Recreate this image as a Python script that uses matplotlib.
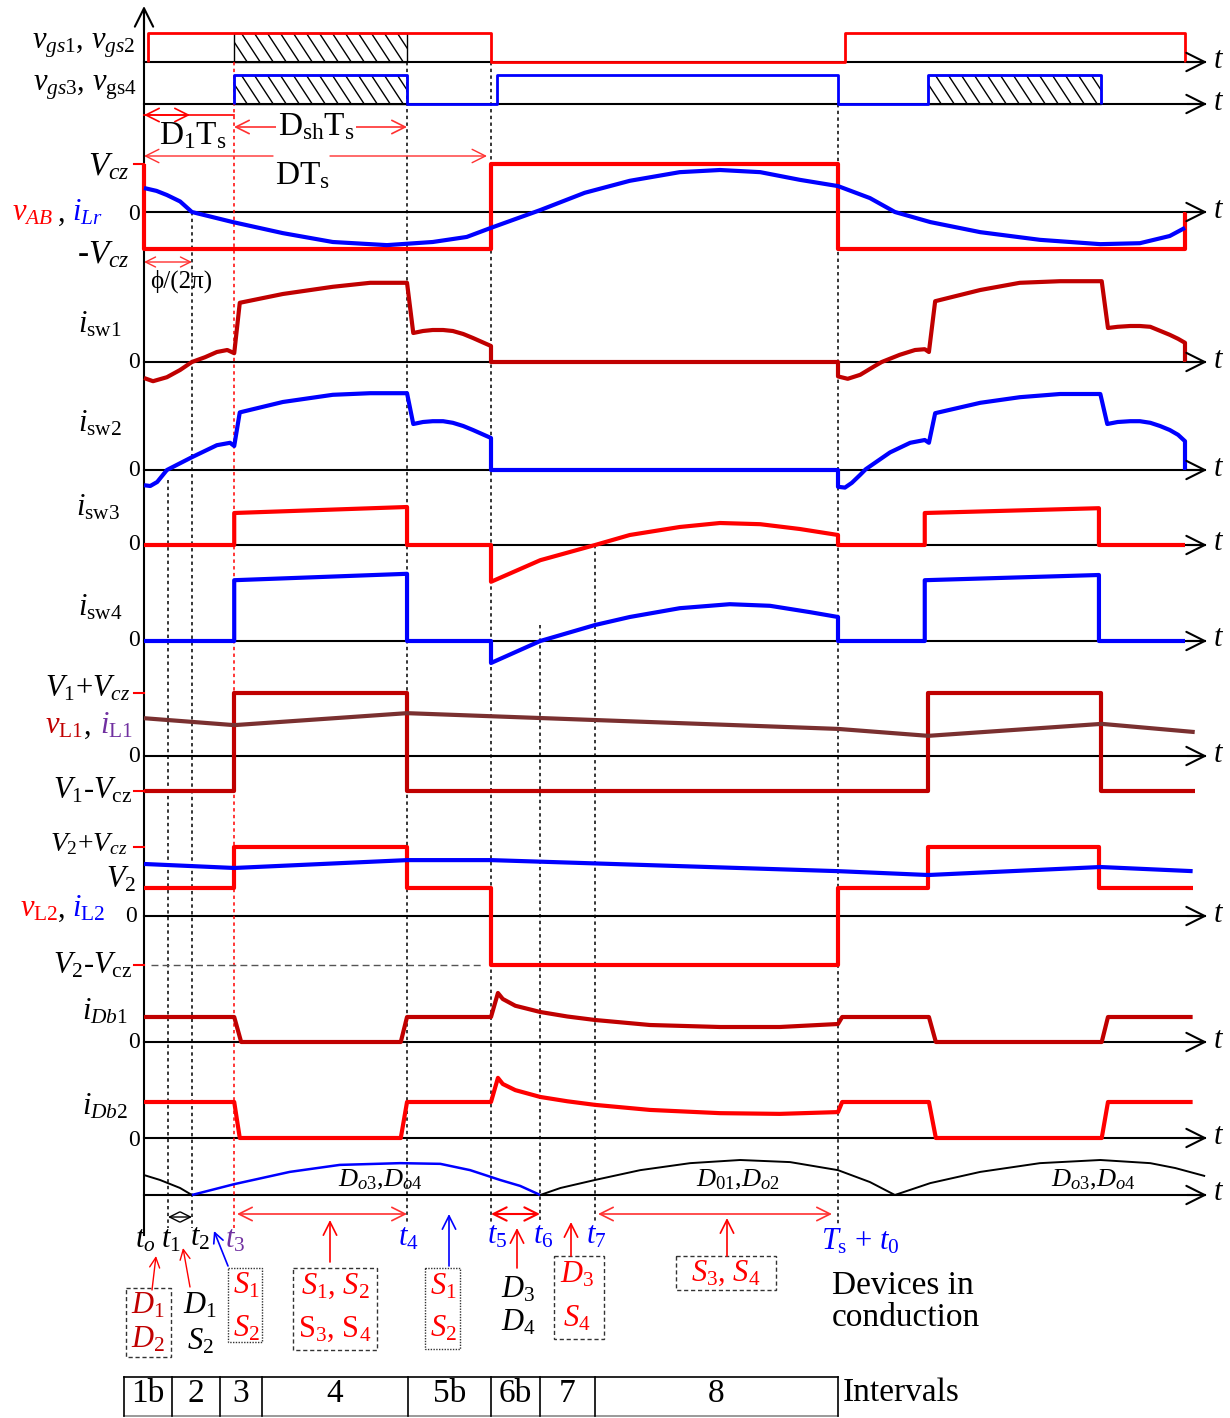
import matplotlib
matplotlib.use("Agg")
import matplotlib.pyplot as plt
import matplotlib.transforms as mtransforms
from matplotlib.patches import Rectangle

plt.rcParams["font.family"] = ["Liberation Serif", "DejaVu Serif"]
plt.rcParams["mathtext.fontset"] = "custom"
plt.rcParams["mathtext.rm"] = "Liberation Serif"
plt.rcParams["mathtext.it"] = "Liberation Serif:italic"
plt.rcParams["mathtext.bf"] = "Liberation Serif:bold"

RED = "#ff0000"
DARK_RED = "#c00000"
BLUE = "#0000ff"
BROWN = "#7a3030"
PURPLE = "#7030a0"
ARROW_RED = "#ff3030"

# switching instants, in units of the switching period Ts
T1, T2, T3, T4, T5, T6, T7, TS = 0.035, 0.069, 0.13, 0.379, 0.5, 0.571, 0.65, 1.0
T3B, T4B, T_END = 1.13, 1.379, 1.5

# gate signals (0 / 1)
VGS12_T = [0.006, 0.006, 0.5, 0.5, 1.01, 1.01, 1.5, 1.5]
VGS12_V = [0, 1, 1, 0, 0, 1, 1, 0]
VGS34_T = [0.13, 0.13, 0.379, 0.379, 0.509, 0.509, 1.0, 1.0, 1.13, 1.13, 1.379, 1.379]
VGS34_V = [0, 1, 1, 0, 0, 1, 1, 0, 0, 1, 1, 0]

# bridge voltage (per unit of Vcz) and resonant current
VAB_T = [0, 0, 0.5, 0.5, 1.0, 1.0, 1.5, 1.5]
VAB_V = [1, -0.77, -0.77, 1, 1, -0.77, -0.77, 0]
ILR_T = [0, 0.018, 0.033, 0.052, 0.069, 0.128, 0.2, 0.272, 0.35, 0.416, 0.465, 0.5,
         0.571, 0.635, 0.7, 0.772, 0.83, 0.888, 0.945, 1.0, 1.046, 1.082, 1.133,
         1.205, 1.291, 1.378, 1.435, 1.478, 1.5]
ILR_V = [0.5, 0.44, 0.354, 0.22, 0, -0.21, -0.44, -0.625, -0.69, -0.625, -0.52, -0.33,
         0.04, 0.4, 0.65, 0.83, 0.875, 0.83, 0.67, 0.54, 0.29, 0, -0.21,
         -0.42, -0.58, -0.67, -0.65, -0.5, -0.33]

# switch currents
ISW1_T = [0, 0.013, 0.033, 0.052, 0.069, 0.088, 0.105, 0.12, 0.13, 0.138, 0.2, 0.272,
          0.326, 0.379, 0.388, 0.402, 0.416, 0.431, 0.445, 0.46, 0.474, 0.487, 0.5,
          0.5, 1.0, 1.0, 1.014, 1.032, 1.053, 1.063, 1.089, 1.111, 1.125, 1.131,
          1.14, 1.205, 1.262, 1.32, 1.38, 1.389, 1.403, 1.421, 1.435, 1.45, 1.464,
          1.478, 1.49, 1.5, 1.5]
ISW1_V = [-0.2, -0.24, -0.19, -0.1, 0, 0.06, 0.125, 0.15, 0.11, 0.74, 0.85, 0.94,
          0.99, 0.99, 0.3625, 0.3875, 0.4, 0.4, 0.3875, 0.35, 0.3, 0.25, 0.2,
          0, 0, -0.18, -0.21, -0.16, -0.05, 0, 0.09, 0.15, 0.16, 0.125,
          0.76, 0.9, 0.99, 1.01, 1.01, 0.425, 0.44, 0.45, 0.45, 0.44, 0.39,
          0.34, 0.29, 0.24, 0]
ISW2_T = [0, 0.009, 0.019, 0.033, 0.069, 0.105, 0.124, 0.13, 0.138, 0.2, 0.272, 0.326,
          0.379, 0.388, 0.402, 0.416, 0.431, 0.445, 0.46, 0.474, 0.487, 0.5, 0.5,
          1.0, 1.0, 1.01, 1.02, 1.032, 1.04, 1.075, 1.104, 1.125, 1.131, 1.14,
          1.205, 1.262, 1.32, 1.378, 1.388, 1.403, 1.421, 1.435, 1.45, 1.464,
          1.478, 1.49, 1.5, 1.5]
ISW2_V = [-0.19, -0.2, -0.15, 0, 0.16, 0.31, 0.34, 0.3, 0.72, 0.85, 0.94, 0.96,
          0.96, 0.575, 0.6, 0.61, 0.61, 0.59, 0.55, 0.5, 0.45, 0.4, 0,
          0, -0.21, -0.22, -0.16, -0.06, 0.01, 0.22, 0.34, 0.375, 0.34, 0.71,
          0.84, 0.91, 0.95, 0.95, 0.575, 0.6, 0.61, 0.61, 0.59, 0.55,
          0.5, 0.44, 0.36, 0]
ISW3_T = [0, 0.13, 0.13, 0.379, 0.379, 0.5, 0.5, 0.571, 0.65, 0.7, 0.772, 0.83,
          0.888, 0.945, 1.0, 1.0, 1.125, 1.125, 1.376, 1.376, 1.5]
ISW3_V = [0, 0, 0.4, 0.475, 0, 0, -0.46, -0.19, 0, 0.125, 0.225, 0.275,
          0.26, 0.2, 0.125, 0, 0, 0.4, 0.46, 0, 0]
ISW4_T = [0, 0.13, 0.13, 0.379, 0.379, 0.5, 0.5, 0.571, 0.65, 0.7, 0.772, 0.844,
          0.902, 0.96, 1.0, 1.0, 1.125, 1.125, 1.376, 1.376, 1.5]
ISW4_V = [0, 0, 0.76, 0.84, 0, 0, -0.275, 0, 0.2, 0.3, 0.41, 0.46,
          0.44, 0.36, 0.3, 0, 0, 0.76, 0.825, 0, 0]

# inductor L1
VL1_T = [0, 0.13, 0.13, 0.379, 0.379, 1.13, 1.13, 1.379, 1.379, 1.514]
VL1_V = [-0.556, -0.556, 1, 1, -0.556, -0.556, 1, 1, -0.556, -0.556]
IL1_T = [0, 0.13, 0.379, 1.0, 1.13, 1.38, 1.514]
IL1_V = [0.6, 0.49, 0.68, 0.43, 0.32, 0.51, 0.38]

# inductor L2
VL2_T = [0, 0.13, 0.13, 0.379, 0.379, 0.5, 0.5, 1.0, 1.0, 1.13, 1.13, 1.376, 1.376, 1.511]
VL2_V = [0.406, 0.406, 1, 1, 0.406, 0.406, -0.71, -0.71, 0.406, 0.406, 1, 1, 0.406, 0.406]
IL2_T = [0, 0.13, 0.379, 0.5, 1.0, 1.13, 1.378, 1.511]
IL2_V = [0.754, 0.696, 0.81, 0.81, 0.65, 0.594, 0.71, 0.65]

# bridge diode currents
IDB1_T = [0, 0.13, 0.14, 0.37, 0.379, 0.5, 0.51, 0.517, 0.535, 0.571, 0.61, 0.65,
          0.729, 0.83, 0.916, 1.0, 1.006, 1.131, 1.141, 1.38, 1.389, 1.511]
IDB1_V = [1, 1, 0, 0, 1, 1, 1.96, 1.72, 1.45, 1.2, 1.02, 0.88,
          0.68, 0.6, 0.6, 0.72, 1, 1, 0, 0, 1, 1]
IDB2_T = [0, 0.13, 0.138, 0.37, 0.379, 0.5, 0.51, 0.517, 0.535, 0.571, 0.61, 0.65,
          0.729, 0.83, 0.916, 1.0, 1.006, 1.131, 1.141, 1.38, 1.389, 1.511]
IDB2_V = [1, 1, 0, 0, 1, 1, 1.67, 1.5, 1.33, 1.14, 1.02, 0.92,
          0.78, 0.69, 0.67, 0.72, 1, 1, 0, 0, 1, 1]

# rectified output current, split by conducting diode pair
REC_A_T = [0, 0.023, 0.052, 0.069]
REC_A_V = [0.57, 0.43, 0.2, 0]
REC_B_T = [0.069, 0.13, 0.21, 0.282, 0.369, 0.427, 0.47, 0.513, 0.542, 0.571]
REC_B_V = [0, 0.31, 0.66, 0.86, 0.91, 0.89, 0.71, 0.43, 0.26, 0]
REC_C_T = [0.571, 0.6, 0.65, 0.715, 0.787, 0.859, 0.931, 1.0, 1.046, 1.082,
           1.133, 1.205, 1.291, 1.378, 1.45, 1.486, 1.529]
REC_C_V = [0, 0.2, 0.43, 0.71, 0.91, 1.0, 0.94, 0.71, 0.37, 0,
           0.34, 0.66, 0.91, 1.0, 0.91, 0.77, 0.54]

INTERVAL_LABELS = ["1b", "2", "3", "4", "5b", "6b", "7", "8"]

# ---------------------------------------------------------------- layout
X0, XS = 144, 694          # pixel of t0 and pixels per period
AX_END = 1207

fig = plt.figure(figsize=(12.3, 14.18), dpi=100)
ax = fig.add_axes([0, 0, 1, 1])
ax.set_xlim(0, 1230)
ax.set_ylim(1418, 0)
ax.axis("off")


def chan(base, scale):
    return mtransforms.Affine2D().scale(XS, -scale).translate(X0, base) + ax.transData


tmix = mtransforms.Affine2D().scale(XS, 1).translate(X0, 0) + ax.transData


def trace(t, v, tr, color, lw=2.6):
    ax.plot(t, v, color=color, lw=lw, transform=tr,
            solid_joinstyle="round", solid_capstyle="butt")


def arrow(x1, y1, x2, y2, color, style="->", lw=1.2, ms=16):
    ax.annotate("", xy=(x2, y2), xytext=(x1, y1),
                arrowprops=dict(arrowstyle=style + ",head_length=0.6,head_width=0.3",
                                color=color, lw=lw, shrinkA=0, shrinkB=0,
                                mutation_scale=ms))


def label(x, y, s, size=22, color="black", ha="right", **kw):
    ax.text(x, y, s, fontsize=size, color=color, ha=ha, va="center", **kw)


# time axes
baselines = [62, 104, 212, 362, 470, 545, 641, 756, 916, 1042, 1138, 1195]
for b in baselines:
    ax.plot([X0, AX_END - 2], [b, b], color="black", lw=1.5)
    arrow(AX_END - 20, b, AX_END, b, "black", lw=1.5, ms=22)
    label(AX_END + 6, b - 2, "$t$", size=22, ha="left")
ax.plot([X0, X0], [1235, 12], color="black", lw=1.5)
arrow(X0, 30, X0, 6, "black", lw=1.5, ms=22)

# dotted event lines (time, top pixel, bottom pixel, colour)
events = [(T1, 480, 1228, "black"), (T2, 212, 1228, "black"), (T3, 62, 1228, RED),
          (T4, 62, 1222, "black"), (T5, 62, 1222, "black"), (T6, 625, 1222, "black"),
          (T7, 545, 1222, "black"), (TS, 104, 1225, "black")]
for t, ytop, ybot, c in events:
    ax.plot([t, t], [ytop, ybot], color=c, lw=1.1, ls=(0, (2.2, 2.2)), transform=tmix)

# gate signals with hatched overlap (steep back-slash hatch)
vgs12_tr = chan(62, 29)
vgs34_tr = chan(104, 29)
HATCH_STEP, HATCH_SLANT = 13 / XS, 19 / XS
for tr, spans in [(vgs12_tr, [(T3, T4)]), (vgs34_tr, [(T3, T4), (T3B, T4B)])]:
    for a, b in spans:
        rect = Rectangle((a, 0), b - a, 1, transform=tr, fill=False,
                         edgecolor="black", lw=1.0)
        ax.add_patch(rect)
        x = a - HATCH_SLANT
        while x < b:
            ln, = ax.plot([x, x + HATCH_SLANT], [1, 0], color="black", lw=1.0,
                          transform=tr)
            ln.set_clip_path(rect)
            x += HATCH_STEP
trace(VGS12_T, VGS12_V, vgs12_tr, RED, lw=2.0)
trace(VGS34_T, VGS34_V, vgs34_tr, BLUE, lw=2.0)

# vAB / iLr
vab_tr = chan(212, 48)
trace(VAB_T, VAB_V, vab_tr, RED, lw=3.0)
trace(ILR_T, ILR_V, vab_tr, BLUE, lw=3.0)

trace(ISW1_T, ISW1_V, chan(362, 80), DARK_RED, lw=3.0)
trace(ISW2_T, ISW2_V, chan(470, 80), BLUE, lw=3.0)
trace(ISW3_T, ISW3_V, chan(545, 80), RED, lw=3.0)
trace(ISW4_T, ISW4_V, chan(641, 80), BLUE, lw=3.0)

vl1_tr = chan(756, 63)
trace(VL1_T, VL1_V, vl1_tr, DARK_RED, lw=3.0)
trace(IL1_T, IL1_V, vl1_tr, BROWN, lw=3.0)

vl2_tr = chan(916, 69)
ax.plot([0.01, 0.485], [-0.71, -0.71], color="#555555", lw=1.0, ls=(0, (5, 3)),
        transform=vl2_tr)
trace(VL2_T, VL2_V, vl2_tr, RED, lw=3.0)
trace(IL2_T, IL2_V, vl2_tr, BLUE, lw=3.0)

trace(IDB1_T, IDB1_V, chan(1042, 25), DARK_RED, lw=3.0)
trace(IDB2_T, IDB2_V, chan(1138, 36), RED, lw=3.0)

rec_tr = chan(1195, 35)
trace(REC_A_T, REC_A_V, rec_tr, "black", lw=1.4)
trace(REC_B_T, REC_B_V, rec_tr, BLUE, lw=1.8)
trace(REC_C_T, REC_C_V, rec_tr, "black", lw=1.4)

# small red level ticks on the vertical axis
for y in [164, 693, 791, 847, 965]:
    ax.plot([134, X0], [y, y], color=RED, lw=1.5)

# ---------------------------------------------------------------- left labels
label(135, 46, "$v_{gs1}$, $v_{gs2}$")
label(137, 87, r"$v_{gs3}$, $v_{\rm gs4}$")
label(130, 167, "$V_{cz}$", size=24)
label(12, 213, "$v_{AB}$", color=RED, ha="left")
label(58, 213, ",", ha="left")
label(72, 213, "$i_{Lr}$", color=BLUE, ha="left")
label(140, 214, "0", size=17)
label(130, 255, "-$V_{cz}$", size=24)
label(150, 281, "ϕ/(2π)", size=18, ha="left")

label(122, 325, r"$i_{\rm sw1}$")
label(122, 424, r"$i_{\rm sw2}$")
label(120, 508, r"$i_{\rm sw3}$")
label(122, 608, r"$i_{\rm sw4}$")
for y in [362, 470, 545, 641]:
    label(140, y, "0", size=17)

label(130, 689, "$V_1$+$V_{cz}$")
label(45, 726, r"$v_{\rm L1}$", color=DARK_RED, ha="left")
label(84, 726, ",", ha="left")
label(100, 726, r"$i_{\rm L1}$", color=PURPLE, ha="left")
label(140, 756, "0", size=17)
label(132, 791, r"$V_1$-$V_{\rm cz}$")

label(128, 844, "$V_2$+$V_{cz}$", size=20)
label(136, 880, "$V_2$")
label(20, 909, r"$v_{\rm L2}$", color=RED, ha="left")
label(58, 909, ",", ha="left")
label(72, 909, r"$i_{\rm L2}$", color=BLUE, ha="left")
label(137, 917, "0", size=17)
label(132, 966, r"$V_2$-$V_{\rm cz}$")

label(128, 1012, "$i_{Db1}$")
label(140, 1043, "0", size=17)
label(128, 1107, "$i_{Db2}$")
label(140, 1140, "0", size=17)

# ---------------------------------------------------------------- duty annotations
arrow(190, 115, 144, 115, RED, style="<->")
ax.plot([144, 234], [115, 115], color=RED, lw=1.2)
label(193, 136, r"D$_1$T$_{\rm s}$", size=24, ha="center")
arrow(234, 127, 407, 127, ARROW_RED, style="<->")
label(316, 127, r"D$_{\rm sh}$T$_{\rm s}$", size=24, ha="center",
      bbox=dict(facecolor="white", edgecolor="none", pad=1))
arrow(273, 156, 144, 156, ARROW_RED, lw=1.0)
arrow(330, 156, 487, 156, ARROW_RED, lw=1.0)
label(303, 176, r"DT$_{\rm s}$", size=24, ha="center")
arrow(144, 262, 192, 262, ARROW_RED, style="<->", lw=1.0, ms=12)

# ---------------------------------------------------------------- bottom annotations
arrow(168, 1217, 192, 1217, "black", style="<->", lw=1.0, ms=12)
arrow(237, 1214, 407, 1214, ARROW_RED, style="<->", lw=1.2)
arrow(491, 1214, 540, 1214, RED, style="<->", lw=1.5)
arrow(598, 1214, 832, 1214, ARROW_RED, style="<->", lw=1.2)
arrow(330, 1262, 330, 1220, RED)
arrow(449, 1266, 449, 1214, BLUE)
arrow(517, 1268, 517, 1228, RED)
arrow(571, 1256, 571, 1222, RED)
arrow(727, 1256, 727, 1218, RED)
arrow(152, 1290, 156, 1256, RED, lw=1.0, ms=12)
arrow(190, 1287, 183, 1248, RED, lw=1.0, ms=12)
arrow(228, 1266, 214, 1231, BLUE, lw=1.2, ms=12)

label(145, 1240, "$t_o$", size=22, ha="center")
label(171, 1240, "$t_1$", size=22, ha="center")
label(200, 1238, "$t_2$", size=22, ha="center")
label(235, 1240, "$t_3$", size=22, ha="center", color=PURPLE)
label(408, 1238, "$t_4$", size=22, ha="center", color=BLUE)
label(497, 1236, "$t_5$", size=22, ha="center", color=BLUE)
label(543, 1236, "$t_6$", size=22, ha="center", color=BLUE)
label(596, 1236, "$t_7$", size=22, ha="center", color=BLUE)
label(860, 1242, r"$T_{\rm s}$ + $t_0$", size=22, ha="center", color=BLUE)

label(380, 1180, "$D_{o3}$,$D_{o4}$", size=19, ha="center")
label(738, 1180, "$D_{01}$,$D_{o2}$", size=19, ha="center")
label(1093, 1180, "$D_{o3}$,$D_{o4}$", size=19, ha="center")


def box(x1, y1, x2, y2, ls):
    ax.add_patch(Rectangle((x1, y1), x2 - x1, y2 - y1, fill=False,
                           edgecolor="#333333", lw=1.0, ls=ls))


box(126, 1288, 171, 1357, (0, (3, 2)))
label(148, 1306, "$D_1$", size=22, ha="center", color=DARK_RED)
label(148, 1340, "$D_2$", size=22, ha="center", color=DARK_RED)
label(200, 1306, "$D_1$", size=22, ha="center")
label(200, 1342, "$S_2$", size=22, ha="center")
box(228, 1268, 262, 1342, (0, (1, 1)))
label(246, 1286, "$S_1$", size=22, ha="center", color=RED)
label(246, 1329, "$S_2$", size=22, ha="center", color=RED)
box(293, 1268, 377, 1350, (0, (3, 2)))
label(335, 1286, "$S_1$, $S_2$", size=22, ha="center", color=RED)
label(335, 1329, r"S$_3$, S$_4$", size=22, ha="center", color=RED)
box(425, 1268, 460, 1349, (0, (1, 1)))
label(443, 1287, "$S_1$", size=22, ha="center", color=RED)
label(443, 1329, "$S_2$", size=22, ha="center", color=RED)
label(518, 1290, "$D_3$", size=22, ha="center")
label(518, 1323, "$D_4$", size=22, ha="center")
box(554, 1256, 604, 1339, (0, (3, 2)))
label(577, 1275, "$D_3$", size=22, ha="center", color=RED)
label(577, 1319, "$S_4$", size=22, ha="center", color=RED)
box(676, 1256, 776, 1290, (0, (3, 2)))
label(726, 1273, "$S_3$, $S_4$", size=22, ha="center", color=RED)
label(832, 1302, "Devices in\nconduction", size=24, ha="left", linespacing=1.05)

# ---------------------------------------------------------------- interval table
edges = [124, 172, 220, 262, 408, 491, 540, 595, 838]
top, bot = 1377, 1416
ax.plot([edges[0], edges[-1]], [top, top], color="black", lw=1.2)
ax.plot([edges[0], edges[-1]], [bot, bot], color="#888888", lw=1.2)
for x in edges:
    ax.plot([x, x], [top, bot], color="black", lw=1.2)
for lab, a, b in zip(INTERVAL_LABELS, edges[:-1], edges[1:]):
    label((a + b) / 2, 1394, lab, size=24, ha="center")
label(843, 1393, "Intervals", size=24, ha="left")

fig.savefig("out.png", dpi=100)
